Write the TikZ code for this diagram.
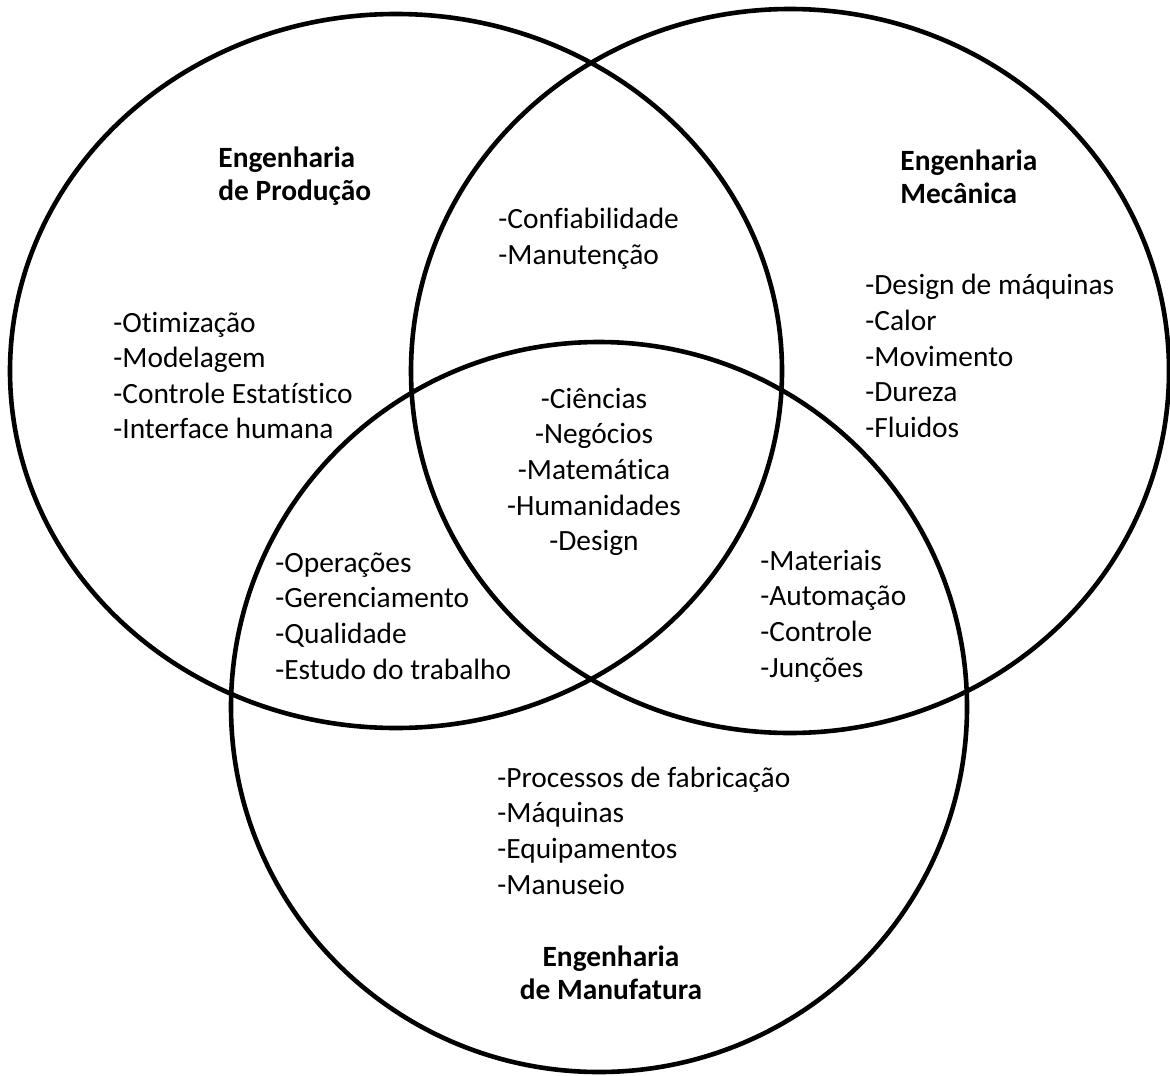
\documentclass[tikz,border=0pt]{standalone}
\usepackage{fontspec}
\setmainfont{Carlito}[Ligatures=NoCommon]
\usepackage{tikz}

\begin{document}
\begin{tikzpicture}[x=0.5pt, y=-0.5pt,
      area/.style={line width=2.3pt, draw=black},
      title/.style={inner sep=0pt, align=center, font=\fontsize{14.7}{16.6}\selectfont\bfseries},
      items/.style={inner sep=0pt, align=left, font=\fontsize{14.7}{17.8}\selectfont},
      core/.style={items, align=center}
    ]
    \useasboundingbox (0,0) rectangle (1170,1075);

    % the three areas
    \draw[area] (396,371) ellipse [x radius=193pt, y radius=178.5pt];
    \draw[area] (790,371) ellipse [x radius=189.5pt, y radius=181pt];
    \draw[area] (599,707) ellipse [x radius=184pt, y radius=182.5pt];

    \node[title, align=left, anchor=west] (prodTitle) at (218,176.5) {Engenharia\\de Produção};
    \node[title, align=left, anchor=west] (mecTitle) at (900,176.5) {Engenharia\\Mecânica};
    \node[title] (manTitle) at (611,972.5) {Engenharia\\de Manufatura};

    \node[items, anchor=west] (prodItems) at (113,375.5) {-Otimização\\-Modelagem\\-Controle Estatístico\\-Interface humana};
    \node[items, anchor=west] (prodMec) at (498,238.5) {-Confiabilidade\\-Manutenção};
    \node[items, anchor=west] (mecItems) at (865,356) {-Design de máquinas\\-Calor\\-Movimento\\-Dureza\\-Fluidos};
    \node[core] (coreItems) at (594,472) {-Ciências\\-Negócios\\-Matemática\\-Humanidades\\-Design};
    \node[items, anchor=west] (prodMan) at (275,616) {-Operações\\-Gerenciamento\\-Qualidade\\-Estudo do trabalho};
    \node[items, anchor=west] (mecMan) at (760,616) {-Materiais\\-Automação\\-Controle\\-Junções};
    \node[items, anchor=west] (manItems) at (497,830.5) {-Processos de fabricação\\-Máquinas\\-Equipamentos\\-Manuseio};
  \end{tikzpicture}
\end{document}
